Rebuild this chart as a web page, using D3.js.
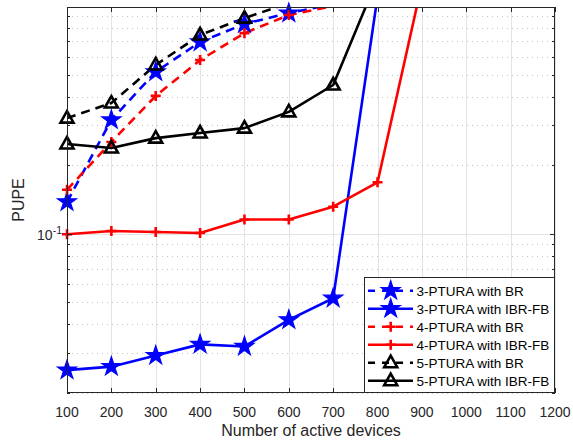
<!DOCTYPE html>
<html>
<head>
<meta charset="utf-8">
<script src="https://cdn.jsdelivr.net/npm/d3@7"></script>
<style>
  body { margin: 0; background: #fff; }
  svg { display: block; font-family: "Liberation Sans", Arial, sans-serif; }
</style>
</head>
<body>
<svg id="chart" width="573" height="440"></svg>
<script>
// Data
const devices = [100, 200, 300, 400, 500, 600, 700, 800, 900, 1000, 1100, 1200];

const ptura3BR    = [0.138, 0.316, 0.514, 0.695, 0.834, 0.931, 1.02, 1.02, 1.02, 1.02, 1.02, 1.02];
const ptura3IBRFB = [0.0252, 0.0261, 0.0292, 0.0327, 0.0320, 0.0419, 0.0521, 1.1, 1.1, 1.1, 1.1, 1.1];
const ptura4BR    = [0.156, 0.253, 0.403, 0.579, 0.760, 0.913, 1.0, 1.0, 1.0, 1.0, 1.0, 1.0];
const ptura4IBRFB = [0.0995, 0.1029, 0.1018, 0.1008, 0.1155, 0.1155, 0.1315, 0.1683, 1.25, 1.25, 1.25, 1.25];
const ptura5BR    = [0.322, 0.375, 0.551, 0.746, 0.885, 1.03, 1.03, 1.03, 1.03, 1.03, 1.03, 1.03];
const ptura5IBRFB = [0.248, 0.238, 0.263, 0.277, 0.291, 0.343, 0.450, 1.32, 1.32, 1.32, 1.32, 1.32];

const seriesNames = ["3-PTURA with BR", "3-PTURA with IBR-FB", "4-PTURA with BR",
                     "4-PTURA with IBR-FB", "5-PTURA with BR", "5-PTURA with IBR-FB"];

const xTicks = [100, 200, 300, 400, 500, 600, 700, 800, 900, 1000, 1100, 1200];
const yMinor = [0.02, 0.03, 0.04, 0.05, 0.06, 0.07, 0.08, 0.09, 0.2, 0.3, 0.4, 0.5, 0.6, 0.7, 0.8, 0.9];

const series = [
  { name: seriesNames[0], values: ptura3BR,    color: "#0000ff", dash: "9,6", marker: "star" },
  { name: seriesNames[1], values: ptura3IBRFB, color: "#0000ff", dash: null,  marker: "star" },
  { name: seriesNames[2], values: ptura4BR,    color: "#ff0000", dash: "9,6", marker: "plus" },
  { name: seriesNames[3], values: ptura4IBRFB, color: "#ff0000", dash: null,  marker: "plus" },
  { name: seriesNames[4], values: ptura5BR,    color: "#000000", dash: "9,6", marker: "tri" },
  { name: seriesNames[5], values: ptura5IBRFB, color: "#000000", dash: null,  marker: "tri" }
];

// Layout
const plotL = 67, plotR = 555, plotT = 7, plotB = 393;
const axisColor = "#262626";

const svg = d3.select("#chart");
svg.append("rect").attr("width", 573).attr("height", 440).attr("fill", "#fff");

const x = d3.scaleLinear().domain([100, 1200]).range([plotL, plotR]);
const y = d3.scaleLog().domain([0.02, 0.99]).range([plotB, plotT]);
const yMax = y.domain()[1];

svg.append("defs").append("clipPath").attr("id", "plotclip")
  .append("rect").attr("x", plotL).attr("y", plotT)
  .attr("width", plotR - plotL).attr("height", plotB - plotT);

// Grid
const grid = svg.append("g");
grid.selectAll(".gx").data(xTicks).enter().append("line")
  .attr("x1", d => Math.round(x(d)) + 0.5).attr("x2", d => Math.round(x(d)) + 0.5)
  .attr("y1", plotT).attr("y2", plotB)
  .attr("stroke", "#e3e3e3").attr("stroke-width", 1);
grid.selectAll(".gy").data(yMinor).enter().append("line")
  .attr("x1", plotL).attr("x2", plotR)
  .attr("y1", d => Math.round(y(d)) + 0.5).attr("y2", d => Math.round(y(d)) + 0.5)
  .attr("stroke", "#c4c4c4").attr("stroke-width", 1)
  .attr("stroke-dasharray", "1,4");
grid.append("line")
  .attr("x1", plotL).attr("x2", plotR)
  .attr("y1", Math.round(y(0.1)) + 0.5).attr("y2", Math.round(y(0.1)) + 0.5)
  .attr("stroke", "#e3e3e3");

// Markers
function markerPath(kind) {
  if (kind === "star") return d3.symbol(d3.symbolStar, 112)();
  if (kind === "tri") return "M0,-7L6.5,4.5L-6.5,4.5Z";
  return "M-5,0H5M0,-5V5";
}
function drawMarker(g, kind, color, cx, cy) {
  const p = g.append("path").attr("d", markerPath(kind))
    .attr("transform", `translate(${cx},${cy})`)
    .attr("stroke", color).attr("stroke-linejoin", "miter");
  if (kind === "star") p.attr("fill", color).attr("stroke-width", 1.2);
  else p.attr("fill", "none").attr("stroke-width", 2.6);
}

const plot = svg.append("g").attr("clip-path", "url(#plotclip)");
const line = d3.line().x((d, i) => x(devices[i])).y(d => y(d));

series.forEach(s => {
  plot.append("path").datum(s.values)
    .attr("d", line)
    .attr("fill", "none")
    .attr("stroke", s.color)
    .attr("stroke-width", 2.6)
    .attr("stroke-linejoin", "round")
    .attr("stroke-dasharray", s.dash);
  // points outside the y limits get no marker (as in the original figure)
  s.values.forEach((v, i) => {
    if (v <= yMax) drawMarker(svg, s.marker, s.color, x(devices[i]), y(v));
  });
});

// Axes box and ticks
const axes = svg.append("g");
axes.append("rect").attr("x", plotL + 0.5).attr("y", plotT + 0.5)
  .attr("width", plotR - plotL - 1).attr("height", plotB - plotT - 1)
  .attr("fill", "none").attr("stroke", axisColor).attr("stroke-width", 1);

xTicks.forEach(t => {
  const px = Math.round(x(t)) + 0.5;
  axes.append("line").attr("x1", px).attr("x2", px).attr("y1", plotB).attr("y2", plotB - 5).attr("stroke", axisColor);
  axes.append("line").attr("x1", px).attr("x2", px).attr("y1", plotT).attr("y2", plotT + 5).attr("stroke", axisColor);
  axes.append("text").attr("x", x(t)).attr("y", 416.5)
    .attr("text-anchor", "middle").attr("font-size", 14).attr("fill", axisColor).text(t);
});
yMinor.forEach(t => {
  const py = Math.round(y(t)) + 0.5;
  axes.append("line").attr("x1", plotL).attr("x2", plotL + 3).attr("y1", py).attr("y2", py).attr("stroke", axisColor);
  axes.append("line").attr("x1", plotR).attr("x2", plotR - 3).attr("y1", py).attr("y2", py).attr("stroke", axisColor);
});
{
  const py = Math.round(y(0.1)) + 0.5;
  axes.append("line").attr("x1", plotL).attr("x2", plotL + 5).attr("y1", py).attr("y2", py).attr("stroke", axisColor);
  axes.append("line").attr("x1", plotR).attr("x2", plotR - 5).attr("y1", py).attr("y2", py).attr("stroke", axisColor);
  const lab = axes.append("text").attr("x", 62).attr("y", py + 5)
    .attr("text-anchor", "end").attr("font-size", 14).attr("fill", axisColor);
  lab.append("tspan").text("10");
  lab.append("tspan").attr("dy", -6).attr("font-size", 10.5).text("-1");
}

// Axis labels
svg.append("text").attr("x", (plotL + plotR) / 2).attr("y", 436)
  .attr("text-anchor", "middle").attr("font-size", 16).attr("fill", axisColor)
  .text("Number of active devices");
svg.append("text").attr("transform", "translate(24,200) rotate(-90)")
  .attr("text-anchor", "middle").attr("font-size", 16).attr("fill", axisColor)
  .text("PUPE");

// Legend
const lg = svg.append("g");
lg.append("rect").attr("x", 364.5).attr("y", 277.5).attr("width", 190).attr("height", 115)
  .attr("fill", "#fff").attr("stroke", axisColor).attr("stroke-width", 1);
series.forEach((s, i) => {
  const ly = 290.7 + i * 18;
  lg.append("line").attr("x1", 368).attr("x2", 413).attr("y1", ly).attr("y2", ly)
    .attr("stroke", s.color).attr("stroke-width", 2.6)
    .attr("stroke-dasharray", s.dash ? "7,7" : null);
  drawMarker(lg, s.marker, s.color, 390.7, ly);
  lg.append("text").attr("x", 416.5).attr("y", ly + 5)
    .attr("font-size", 13.5).attr("fill", "#000").text(s.name);
});
</script>
</body>
</html>
